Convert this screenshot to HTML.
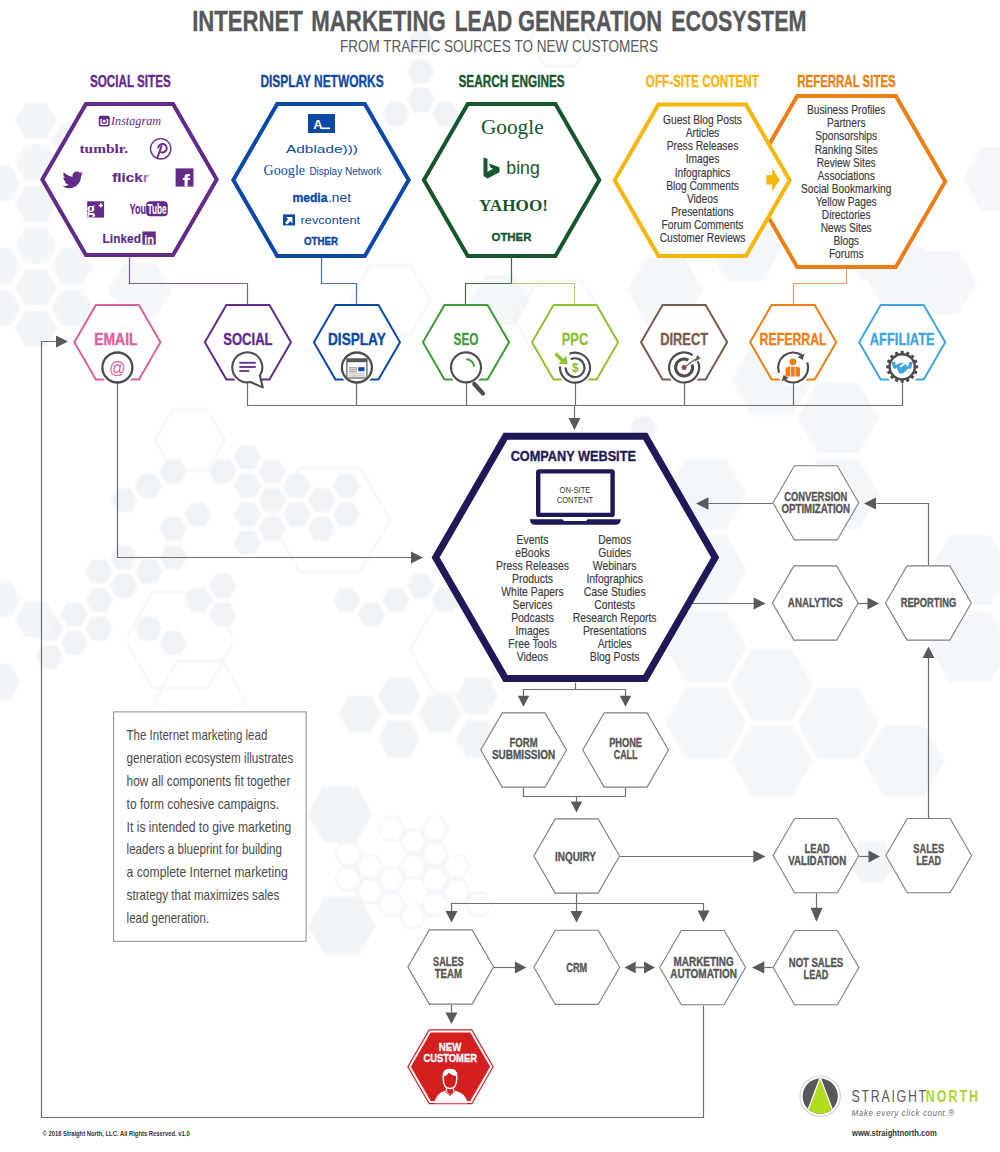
<!DOCTYPE html>
<html><head><meta charset="utf-8"><title>Internet Marketing Lead Generation Ecosystem</title>
<style>html,body{margin:0;padding:0;background:#fff;width:1000px;height:1152px;overflow:hidden}svg{display:block}</style>
</head><body>
<svg width="1000" height="1152" viewBox="0 0 1000 1152"><defs><filter id="bgb" x="-5%" y="-5%" width="110%" height="110%"><feGaussianBlur stdDeviation="1.2"/></filter></defs>
<g filter="url(#bgb)">
<g fill="#eff3f7">
<polygon points="63.30,628.73 56.40,640.69 42.60,640.69 35.70,628.73 42.60,616.78 56.40,616.78"/>
<polygon points="63.30,657.31 56.40,669.26 42.60,669.26 35.70,657.31 42.60,645.36 56.40,645.36"/>
<polygon points="88.05,614.45 81.15,626.40 67.35,626.40 60.45,614.45 67.35,602.49 81.15,602.49"/>
<polygon points="88.05,643.02 81.15,654.98 67.35,654.98 60.45,643.02 67.35,631.07 81.15,631.07"/>
<polygon points="112.80,571.58 105.90,583.53 92.10,583.53 85.20,571.58 92.10,559.63 105.90,559.63"/>
<polygon points="112.80,600.16 105.90,612.11 92.10,612.11 85.20,600.16 92.10,588.20 105.90,588.20"/>
<polygon points="112.80,628.73 105.90,640.69 92.10,640.69 85.20,628.73 92.10,616.78 105.90,616.78"/>
<polygon points="137.55,500.13 130.65,512.08 116.85,512.08 109.95,500.13 116.85,488.18 130.65,488.18"/>
<polygon points="137.55,557.29 130.65,569.24 116.85,569.24 109.95,557.29 116.85,545.34 130.65,545.34"/>
<polygon points="137.55,585.87 130.65,597.82 116.85,597.82 109.95,585.87 116.85,573.92 130.65,573.92"/>
<polygon points="162.30,485.84 155.40,497.79 141.60,497.79 134.70,485.84 141.60,473.89 155.40,473.89"/>
<polygon points="162.30,571.58 155.40,583.53 141.60,583.53 134.70,571.58 141.60,559.63 155.40,559.63"/>
<polygon points="162.30,628.73 155.40,640.69 141.60,640.69 134.70,628.73 141.60,616.78 155.40,616.78"/>
<polygon points="187.05,471.55 180.15,483.50 166.35,483.50 159.45,471.55 166.35,459.60 180.15,459.60"/>
<polygon points="187.05,528.71 180.15,540.66 166.35,540.66 159.45,528.71 166.35,516.76 180.15,516.76"/>
<polygon points="187.05,557.29 180.15,569.24 166.35,569.24 159.45,557.29 166.35,545.34 180.15,545.34"/>
<polygon points="187.05,643.02 180.15,654.98 166.35,654.98 159.45,643.02 166.35,631.07 180.15,631.07"/>
<polygon points="211.80,514.42 204.90,526.37 191.10,526.37 184.20,514.42 191.10,502.47 204.90,502.47"/>
<polygon points="211.80,600.16 204.90,612.11 191.10,612.11 184.20,600.16 191.10,588.20 204.90,588.20"/>
<polygon points="236.55,471.55 229.65,483.50 215.85,483.50 208.95,471.55 215.85,459.60 229.65,459.60"/>
<polygon points="236.55,585.87 229.65,597.82 215.85,597.82 208.95,585.87 215.85,573.92 229.65,573.92"/>
<polygon points="236.55,614.45 229.65,626.40 215.85,626.40 208.95,614.45 215.85,602.49 229.65,602.49"/>
<polygon points="261.30,457.26 254.40,469.21 240.60,469.21 233.70,457.26 240.60,445.31 254.40,445.31"/>
<polygon points="261.30,485.84 254.40,497.79 240.60,497.79 233.70,485.84 240.60,473.89 254.40,473.89"/>
<polygon points="261.30,514.42 254.40,526.37 240.60,526.37 233.70,514.42 240.60,502.47 254.40,502.47"/>
<polygon points="261.30,543.00 254.40,554.95 240.60,554.95 233.70,543.00 240.60,531.05 254.40,531.05"/>
<polygon points="286.05,471.55 279.15,483.50 265.35,483.50 258.45,471.55 265.35,459.60 279.15,459.60"/>
<polygon points="286.05,500.13 279.15,512.08 265.35,512.08 258.45,500.13 265.35,488.18 279.15,488.18"/>
<polygon points="286.05,528.71 279.15,540.66 265.35,540.66 258.45,528.71 265.35,516.76 279.15,516.76"/>
<polygon points="310.80,485.84 303.90,497.79 290.10,497.79 283.20,485.84 290.10,473.89 303.90,473.89"/>
<polygon points="310.80,514.42 303.90,526.37 290.10,526.37 283.20,514.42 290.10,502.47 303.90,502.47"/>
<polygon points="335.55,500.13 328.65,512.08 314.85,512.08 307.95,500.13 314.85,488.18 328.65,488.18"/>
<polygon points="335.55,528.71 328.65,540.66 314.85,540.66 307.95,528.71 314.85,516.76 328.65,516.76"/>
<polygon points="360.30,485.84 353.40,497.79 339.60,497.79 332.70,485.84 339.60,473.89 353.40,473.89"/>
<polygon points="360.30,514.42 353.40,526.37 339.60,526.37 332.70,514.42 339.60,502.47 353.40,502.47"/>
<polygon points="360.30,600.16 353.40,612.11 339.60,612.11 332.70,600.16 339.60,588.20 353.40,588.20"/>
<polygon points="385.05,614.45 378.15,626.40 364.35,626.40 357.45,614.45 364.35,602.49 378.15,602.49"/>
<polygon points="409.80,114.32 402.90,126.27 389.10,126.27 382.20,114.32 389.10,102.36 402.90,102.36"/>
<polygon points="409.80,600.16 402.90,612.11 389.10,612.11 382.20,600.16 389.10,588.20 402.90,588.20"/>
<polygon points="434.55,42.87 427.65,54.82 413.85,54.82 406.95,42.87 413.85,30.92 427.65,30.92"/>
<polygon points="434.55,71.45 427.65,83.40 413.85,83.40 406.95,71.45 413.85,59.50 427.65,59.50"/>
<polygon points="434.55,100.03 427.65,111.98 413.85,111.98 406.95,100.03 413.85,88.07 427.65,88.07"/>
<polygon points="434.55,585.87 427.65,597.82 413.85,597.82 406.95,585.87 413.85,573.92 427.65,573.92"/>
<polygon points="459.30,114.32 452.40,126.27 438.60,126.27 431.70,114.32 438.60,102.36 452.40,102.36"/>
<polygon points="459.30,600.16 452.40,612.11 438.60,612.11 431.70,600.16 438.60,588.20 452.40,588.20"/>
<polygon points="657.30,428.68 650.40,440.63 636.60,440.63 629.70,428.68 636.60,416.73 650.40,416.73"/>
</g>
<g fill="#f2f5f9">
<polygon points="21.00,183.14 10.50,201.32 -10.50,201.32 -21.00,183.14 -10.50,164.95 10.50,164.95"/>
<polygon points="21.00,266.28 10.50,284.46 -10.50,284.46 -21.00,266.28 -10.50,248.09 10.50,248.09"/>
<polygon points="21.00,307.85 10.50,326.03 -10.50,326.03 -21.00,307.85 -10.50,289.66 10.50,289.66"/>
<polygon points="21.00,598.83 10.50,617.02 -10.50,617.02 -21.00,598.83 -10.50,580.64 10.50,580.64"/>
<polygon points="21.00,681.97 10.50,700.16 -10.50,700.16 -21.00,681.97 -10.50,663.78 10.50,663.78"/>
<polygon points="57.00,120.78 46.50,138.97 25.50,138.97 15.00,120.78 25.50,102.60 46.50,102.60"/>
<polygon points="57.00,162.35 46.50,180.54 25.50,180.54 15.00,162.35 25.50,144.17 46.50,144.17"/>
<polygon points="57.00,203.92 46.50,222.11 25.50,222.11 15.00,203.92 25.50,185.74 46.50,185.74"/>
<polygon points="57.00,245.49 46.50,263.68 25.50,263.68 15.00,245.49 25.50,227.31 46.50,227.31"/>
<polygon points="57.00,287.06 46.50,305.25 25.50,305.25 15.00,287.06 25.50,268.87 46.50,268.87"/>
<polygon points="57.00,328.63 46.50,346.82 25.50,346.82 15.00,328.63 25.50,310.44 46.50,310.44"/>
<polygon points="57.00,619.62 46.50,637.80 25.50,637.80 15.00,619.62 25.50,601.43 46.50,601.43"/>
<polygon points="93.00,141.57 82.50,159.76 61.50,159.76 51.00,141.57 61.50,123.38 82.50,123.38"/>
<polygon points="93.00,183.14 82.50,201.32 61.50,201.32 51.00,183.14 61.50,164.95 82.50,164.95"/>
<polygon points="93.00,266.28 82.50,284.46 61.50,284.46 51.00,266.28 61.50,248.09 82.50,248.09"/>
<polygon points="93.00,307.85 82.50,326.03 61.50,326.03 51.00,307.85 61.50,289.66 82.50,289.66"/>
</g>
<polygon points="381.50,714.00 370.75,732.62 349.25,732.62 338.50,714.00 349.25,695.38 370.75,695.38" fill="#f2f5f8"/>
<polygon points="420.50,696.00 409.75,714.62 388.25,714.62 377.50,696.00 388.25,677.38 409.75,677.38" fill="#f2f5f8"/>
<polygon points="420.50,739.00 409.75,757.62 388.25,757.62 377.50,739.00 388.25,720.38 409.75,720.38" fill="#f2f5f8"/>
<polygon points="461.50,714.00 450.75,732.62 429.25,732.62 418.50,714.00 429.25,695.38 450.75,695.38" fill="#f2f5f8"/>
<polygon points="498.50,696.00 487.75,714.62 466.25,714.62 455.50,696.00 466.25,677.38 487.75,677.38" fill="#f2f5f8"/>
<polygon points="498.50,739.00 487.75,757.62 466.25,757.62 455.50,739.00 466.25,720.38 487.75,720.38" fill="#f2f5f8"/>
<polygon points="373.00,814.00 356.50,842.58 323.50,842.58 307.00,814.00 323.50,785.42 356.50,785.42" fill="#f2f5f8"/>
<polygon points="376.00,926.00 359.00,955.44 325.00,955.44 308.00,926.00 325.00,896.56 359.00,896.56" fill="#f2f5f8"/>
<g fill="none" stroke="#edf1f5" stroke-width="1.6">
<polygon points="361.00,853.90 354.50,865.16 341.50,865.16 335.00,853.90 341.50,842.64 354.50,842.64"/>
<polygon points="361.00,879.02 354.50,890.27 341.50,890.27 335.00,879.02 341.50,867.76 354.50,867.76"/>
<polygon points="382.75,866.46 376.25,877.72 363.25,877.72 356.75,866.46 363.25,855.20 376.25,855.20"/>
<polygon points="382.75,891.57 376.25,902.83 363.25,902.83 356.75,891.57 363.25,880.31 376.25,880.31"/>
<polygon points="404.50,828.79 398.00,840.04 385.00,840.04 378.50,828.79 385.00,817.53 398.00,817.53"/>
<polygon points="404.50,879.02 398.00,890.27 385.00,890.27 378.50,879.02 385.00,867.76 398.00,867.76"/>
<polygon points="404.50,904.13 398.00,915.39 385.00,915.39 378.50,904.13 385.00,892.87 398.00,892.87"/>
<polygon points="426.25,841.34 419.75,852.60 406.75,852.60 400.25,841.34 406.75,830.09 419.75,830.09"/>
<polygon points="426.25,866.46 419.75,877.72 406.75,877.72 400.25,866.46 406.75,855.20 419.75,855.20"/>
<polygon points="426.25,916.69 419.75,927.95 406.75,927.95 400.25,916.69 406.75,905.43 419.75,905.43"/>
<polygon points="448.00,828.79 441.50,840.04 428.50,840.04 422.00,828.79 428.50,817.53 441.50,817.53"/>
<polygon points="448.00,853.90 441.50,865.16 428.50,865.16 422.00,853.90 428.50,842.64 441.50,842.64"/>
<polygon points="448.00,879.02 441.50,890.27 428.50,890.27 422.00,879.02 428.50,867.76 441.50,867.76"/>
<polygon points="448.00,904.13 441.50,915.39 428.50,915.39 422.00,904.13 428.50,892.87 441.50,892.87"/>
<polygon points="469.75,866.46 463.25,877.72 450.25,877.72 443.75,866.46 450.25,855.20 463.25,855.20"/>
<polygon points="469.75,891.57 463.25,902.83 450.25,902.83 443.75,891.57 450.25,880.31 463.25,880.31"/>
<polygon points="491.50,904.13 485.00,915.39 472.00,915.39 465.50,904.13 472.00,892.87 485.00,892.87"/>
</g>
<g fill="#f4f7fa">
<polygon points="681.00,532.42 660.50,567.93 619.50,567.93 599.00,532.42 619.50,496.91 660.50,496.91"/>
<polygon points="747.00,494.32 726.50,529.82 685.50,529.82 665.00,494.32 685.50,458.81 726.50,458.81"/>
<polygon points="747.00,570.53 726.50,606.03 685.50,606.03 665.00,570.53 685.50,535.02 726.50,535.02"/>
<polygon points="747.00,646.74 726.50,682.24 685.50,682.24 665.00,646.74 685.50,611.23 726.50,611.23"/>
<polygon points="747.00,722.95 726.50,758.45 685.50,758.45 665.00,722.95 685.50,687.44 726.50,687.44"/>
<polygon points="813.00,380.00 792.50,415.51 751.50,415.51 731.00,380.00 751.50,344.49 792.50,344.49"/>
<polygon points="813.00,684.84 792.50,720.35 751.50,720.35 731.00,684.84 751.50,649.33 792.50,649.33"/>
<polygon points="813.00,761.05 792.50,796.56 751.50,796.56 731.00,761.05 751.50,725.54 792.50,725.54"/>
<polygon points="879.00,418.11 858.50,453.61 817.50,453.61 797.00,418.11 817.50,382.60 858.50,382.60"/>
<polygon points="879.00,494.32 858.50,529.82 817.50,529.82 797.00,494.32 817.50,458.81 858.50,458.81"/>
<polygon points="879.00,722.95 858.50,758.45 817.50,758.45 797.00,722.95 817.50,687.44 858.50,687.44"/>
<polygon points="945.00,761.05 924.50,796.56 883.50,796.56 863.00,761.05 883.50,725.54 924.50,725.54"/>
<polygon points="1011.00,570.53 990.50,606.03 949.50,606.03 929.00,570.53 949.50,535.02 990.50,535.02"/>
<polygon points="1011.00,646.74 990.50,682.24 949.50,682.24 929.00,646.74 949.50,611.23 990.50,611.23"/>
</g>
<g fill="#f5f7fa">
<polygon points="917.00,247.85 898.50,279.89 861.50,279.89 843.00,247.85 861.50,215.80 898.50,215.80"/>
<polygon points="977.00,282.49 958.50,314.53 921.50,314.53 903.00,282.49 921.50,250.44 958.50,250.44"/>
<polygon points="1037.00,178.56 1018.50,210.61 981.50,210.61 963.00,178.56 981.50,146.52 1018.50,146.52"/>
</g>
<polygon points="703.00,290.00 684.00,322.91 646.00,322.91 627.00,290.00 646.00,257.09 684.00,257.09" fill="#f4f7fa"/>
<polygon points="781.00,250.00 763.00,281.18 727.00,281.18 709.00,250.00 727.00,218.82 763.00,218.82" fill="#f4f7fa"/>
<polygon points="943.00,280.00 924.00,312.91 886.00,312.91 867.00,280.00 886.00,247.09 924.00,247.09" fill="#f4f7fa"/>
<polygon points="530.00,300.00 515.00,325.98 485.00,325.98 470.00,300.00 485.00,274.02 515.00,274.02" fill="#f4f7fa"/>
<polygon points="172.00,290.00 156.00,317.71 124.00,317.71 108.00,290.00 124.00,262.29 156.00,262.29" fill="#f4f7fa"/>
<polygon points="896.00,862.00 884.00,882.78 860.00,882.78 848.00,862.00 860.00,841.22 884.00,841.22" fill="#f3f6f9"/>
<g fill="none" stroke="#f0f3f6" stroke-width="2">
<polygon points="225.00,440.00 207.50,470.31 172.50,470.31 155.00,440.00 172.50,409.69 207.50,409.69"/>
<polygon points="430.00,300.00 410.00,334.64 370.00,334.64 350.00,300.00 370.00,265.36 410.00,265.36"/>
<polygon points="235.00,640.00 207.50,687.63 152.50,687.63 125.00,640.00 152.50,592.37 207.50,592.37"/>
<polygon points="605.00,320.00 582.50,358.97 537.50,358.97 515.00,320.00 537.50,281.03 582.50,281.03"/>
<polygon points="390.00,520.00 360.00,571.96 300.00,571.96 270.00,520.00 300.00,468.04 360.00,468.04"/>
<polygon points="510.00,650.00 485.00,693.30 435.00,693.30 410.00,650.00 435.00,606.70 485.00,606.70"/>
<polygon points="245.00,700.00 222.50,738.97 177.50,738.97 155.00,700.00 177.50,661.03 222.50,661.03"/>
<polygon points="590.00,40.00 575.00,65.98 545.00,65.98 530.00,40.00 545.00,14.02 575.00,14.02"/>
</g>
</g>
<text x="192.2" y="30.8" font-family="Liberation Sans" font-size="29.07" font-weight="bold" fill="#58585a" text-anchor="start" textLength="110.7" lengthAdjust="spacingAndGlyphs" stroke="#58585a" stroke-width="0.35" stroke-linejoin="round" >INTERNET</text>
<text x="311.3" y="30.8" font-family="Liberation Sans" font-size="29.07" font-weight="bold" fill="#58585a" text-anchor="start" textLength="134.5" lengthAdjust="spacingAndGlyphs" stroke="#58585a" stroke-width="0.35" stroke-linejoin="round" >MARKETING</text>
<text x="454.7" y="30.8" font-family="Liberation Sans" font-size="29.07" font-weight="bold" fill="#58585a" text-anchor="start" textLength="57.5" lengthAdjust="spacingAndGlyphs" stroke="#58585a" stroke-width="0.35" stroke-linejoin="round" >LEAD</text>
<text x="518.0" y="30.8" font-family="Liberation Sans" font-size="29.07" font-weight="bold" fill="#58585a" text-anchor="start" textLength="144.1" lengthAdjust="spacingAndGlyphs" stroke="#58585a" stroke-width="0.35" stroke-linejoin="round" >GENERATION</text>
<text x="671.2" y="30.8" font-family="Liberation Sans" font-size="29.07" font-weight="bold" fill="#58585a" text-anchor="start" textLength="135.4" lengthAdjust="spacingAndGlyphs" stroke="#58585a" stroke-width="0.35" stroke-linejoin="round" >ECOSYSTEM</text>
<text x="499.0" y="51.6" font-family="Liberation Sans" font-size="16.57" font-weight="normal" fill="#58585a" text-anchor="middle" textLength="318.0" lengthAdjust="spacingAndGlyphs" >FROM TRAFFIC SOURCES TO NEW CUSTOMERS</text>
<text x="89.9" y="86.9" font-family="Liberation Sans" font-size="15.84" font-weight="bold" fill="#632a8a" text-anchor="start" textLength="80.9" lengthAdjust="spacingAndGlyphs" stroke="#632a8a" stroke-width="0.35" stroke-linejoin="round" >SOCIAL SITES</text>
<text x="260.4" y="86.9" font-family="Liberation Sans" font-size="15.84" font-weight="bold" fill="#0b49a6" text-anchor="start" textLength="123.2" lengthAdjust="spacingAndGlyphs" stroke="#0b49a6" stroke-width="0.35" stroke-linejoin="round" >DISPLAY NETWORKS</text>
<text x="458.4" y="86.9" font-family="Liberation Sans" font-size="15.84" font-weight="bold" fill="#16562d" text-anchor="start" textLength="106.3" lengthAdjust="spacingAndGlyphs" stroke="#16562d" stroke-width="0.35" stroke-linejoin="round" >SEARCH ENGINES</text>
<text x="645.8" y="86.9" font-family="Liberation Sans" font-size="15.84" font-weight="bold" fill="#f8b50c" text-anchor="start" textLength="113.0" lengthAdjust="spacingAndGlyphs" stroke="#f8b50c" stroke-width="0.35" stroke-linejoin="round" >OFF-SITE CONTENT</text>
<text x="797.3" y="86.9" font-family="Liberation Sans" font-size="15.84" font-weight="bold" fill="#ec7e14" text-anchor="start" textLength="98.4" lengthAdjust="spacingAndGlyphs" stroke="#ec7e14" stroke-width="0.35" stroke-linejoin="round" >REFERRAL SITES</text>
<path d="M129.5,257.5 L129.5,283.5 L247.5,283.5 L247.5,305.5" fill="none" stroke="#7a5a94" stroke-width="1.2" />
<path d="M321.5,257.5 L321.5,283.5 L356.5,283.5 L356.5,305.5" fill="none" stroke="#4a6fae" stroke-width="1.2" />
<path d="M511.5,257.5 L511.5,283.5 L465.5,283.5 L465.5,305.5" fill="none" stroke="#3f6b45" stroke-width="1.2" />
<path d="M511.5,283.5 L574.5,283.5 L574.5,305.5" fill="none" stroke="#a9cf6a" stroke-width="1.2" />
<path d="M846.5,268.5 L846.5,283.5 L793.5,283.5 L793.5,305.5" fill="none" stroke="#e9a060" stroke-width="1.2" />
<polygon points="945.19,181.50 895.85,266.97 797.15,266.97 747.81,181.50 797.15,96.03 895.85,96.03" fill="#fff" stroke="#ec7e14" stroke-width="4" stroke-linejoin="miter" />
<polygon points="216.69,179.50 173.10,255.01 85.90,255.01 42.31,179.50 85.90,103.99 173.10,103.99" fill="#fff" stroke="#632a8a" stroke-width="4" stroke-linejoin="miter" />
<polygon points="408.69,180.00 364.85,255.94 277.15,255.94 233.31,180.00 277.15,104.06 364.85,104.06" fill="#fff" stroke="#0b49a6" stroke-width="4" stroke-linejoin="miter" />
<polygon points="599.29,180.00 555.45,255.94 467.75,255.94 423.91,180.00 467.75,104.06 555.45,104.06" fill="#fff" stroke="#16562d" stroke-width="4" stroke-linejoin="miter" />
<polygon points="789.69,180.20 745.95,255.97 658.45,255.97 614.71,180.20 658.45,104.43 745.95,104.43" fill="#fff" stroke="#f8b50c" stroke-width="4" stroke-linejoin="miter" />
<polygon points="766.5,175 772.3,175 772.3,168.3 779.6,179.8 772.3,191.4 772.3,184.6 766.5,184.6" fill="#f8b50c"/>
<text x="702.5" y="124.2" font-family="Liberation Sans" font-size="11.90" font-weight="normal" fill="#3a3a3a" text-anchor="middle" stroke="#3a3a3a" stroke-width="0.15" stroke-linejoin="round" transform="translate(702.5 0) scale(0.86 1) translate(-702.5 0)">Guest Blog Posts</text>
<text x="702.5" y="137.3" font-family="Liberation Sans" font-size="11.90" font-weight="normal" fill="#3a3a3a" text-anchor="middle" stroke="#3a3a3a" stroke-width="0.15" stroke-linejoin="round" transform="translate(702.5 0) scale(0.86 1) translate(-702.5 0)">Articles</text>
<text x="702.5" y="150.4" font-family="Liberation Sans" font-size="11.90" font-weight="normal" fill="#3a3a3a" text-anchor="middle" stroke="#3a3a3a" stroke-width="0.15" stroke-linejoin="round" transform="translate(702.5 0) scale(0.86 1) translate(-702.5 0)">Press Releases</text>
<text x="702.5" y="163.5" font-family="Liberation Sans" font-size="11.90" font-weight="normal" fill="#3a3a3a" text-anchor="middle" stroke="#3a3a3a" stroke-width="0.15" stroke-linejoin="round" transform="translate(702.5 0) scale(0.86 1) translate(-702.5 0)">Images</text>
<text x="702.5" y="176.6" font-family="Liberation Sans" font-size="11.90" font-weight="normal" fill="#3a3a3a" text-anchor="middle" stroke="#3a3a3a" stroke-width="0.15" stroke-linejoin="round" transform="translate(702.5 0) scale(0.86 1) translate(-702.5 0)">Infographics</text>
<text x="702.5" y="189.7" font-family="Liberation Sans" font-size="11.90" font-weight="normal" fill="#3a3a3a" text-anchor="middle" stroke="#3a3a3a" stroke-width="0.15" stroke-linejoin="round" transform="translate(702.5 0) scale(0.86 1) translate(-702.5 0)">Blog Comments</text>
<text x="702.5" y="202.8" font-family="Liberation Sans" font-size="11.90" font-weight="normal" fill="#3a3a3a" text-anchor="middle" stroke="#3a3a3a" stroke-width="0.15" stroke-linejoin="round" transform="translate(702.5 0) scale(0.86 1) translate(-702.5 0)">Videos</text>
<text x="702.5" y="215.9" font-family="Liberation Sans" font-size="11.90" font-weight="normal" fill="#3a3a3a" text-anchor="middle" stroke="#3a3a3a" stroke-width="0.15" stroke-linejoin="round" transform="translate(702.5 0) scale(0.86 1) translate(-702.5 0)">Presentations</text>
<text x="702.5" y="229.0" font-family="Liberation Sans" font-size="11.90" font-weight="normal" fill="#3a3a3a" text-anchor="middle" stroke="#3a3a3a" stroke-width="0.15" stroke-linejoin="round" transform="translate(702.5 0) scale(0.86 1) translate(-702.5 0)">Forum Comments</text>
<text x="702.5" y="242.1" font-family="Liberation Sans" font-size="11.90" font-weight="normal" fill="#3a3a3a" text-anchor="middle" stroke="#3a3a3a" stroke-width="0.15" stroke-linejoin="round" transform="translate(702.5 0) scale(0.86 1) translate(-702.5 0)">Customer Reviews</text>
<text x="846.2" y="114.4" font-family="Liberation Sans" font-size="11.90" font-weight="normal" fill="#3a3a3a" text-anchor="middle" stroke="#3a3a3a" stroke-width="0.15" stroke-linejoin="round" transform="translate(846.2 0) scale(0.86 1) translate(-846.2 0)">Business Profiles</text>
<text x="846.2" y="127.5" font-family="Liberation Sans" font-size="11.90" font-weight="normal" fill="#3a3a3a" text-anchor="middle" stroke="#3a3a3a" stroke-width="0.15" stroke-linejoin="round" transform="translate(846.2 0) scale(0.86 1) translate(-846.2 0)">Partners</text>
<text x="846.2" y="140.5" font-family="Liberation Sans" font-size="11.90" font-weight="normal" fill="#3a3a3a" text-anchor="middle" stroke="#3a3a3a" stroke-width="0.15" stroke-linejoin="round" transform="translate(846.2 0) scale(0.86 1) translate(-846.2 0)">Sponsorships</text>
<text x="846.2" y="153.6" font-family="Liberation Sans" font-size="11.90" font-weight="normal" fill="#3a3a3a" text-anchor="middle" stroke="#3a3a3a" stroke-width="0.15" stroke-linejoin="round" transform="translate(846.2 0) scale(0.86 1) translate(-846.2 0)">Ranking Sites</text>
<text x="846.2" y="166.6" font-family="Liberation Sans" font-size="11.90" font-weight="normal" fill="#3a3a3a" text-anchor="middle" stroke="#3a3a3a" stroke-width="0.15" stroke-linejoin="round" transform="translate(846.2 0) scale(0.86 1) translate(-846.2 0)">Review Sites</text>
<text x="846.2" y="179.7" font-family="Liberation Sans" font-size="11.90" font-weight="normal" fill="#3a3a3a" text-anchor="middle" stroke="#3a3a3a" stroke-width="0.15" stroke-linejoin="round" transform="translate(846.2 0) scale(0.86 1) translate(-846.2 0)">Associations</text>
<text x="846.2" y="192.8" font-family="Liberation Sans" font-size="11.90" font-weight="normal" fill="#3a3a3a" text-anchor="middle" stroke="#3a3a3a" stroke-width="0.15" stroke-linejoin="round" transform="translate(846.2 0) scale(0.86 1) translate(-846.2 0)">Social Bookmarking</text>
<text x="846.2" y="205.8" font-family="Liberation Sans" font-size="11.90" font-weight="normal" fill="#3a3a3a" text-anchor="middle" stroke="#3a3a3a" stroke-width="0.15" stroke-linejoin="round" transform="translate(846.2 0) scale(0.86 1) translate(-846.2 0)">Yellow Pages</text>
<text x="846.2" y="218.9" font-family="Liberation Sans" font-size="11.90" font-weight="normal" fill="#3a3a3a" text-anchor="middle" stroke="#3a3a3a" stroke-width="0.15" stroke-linejoin="round" transform="translate(846.2 0) scale(0.86 1) translate(-846.2 0)">Directories</text>
<text x="846.2" y="231.9" font-family="Liberation Sans" font-size="11.90" font-weight="normal" fill="#3a3a3a" text-anchor="middle" stroke="#3a3a3a" stroke-width="0.15" stroke-linejoin="round" transform="translate(846.2 0) scale(0.86 1) translate(-846.2 0)">News Sites</text>
<text x="846.2" y="245.0" font-family="Liberation Sans" font-size="11.90" font-weight="normal" fill="#3a3a3a" text-anchor="middle" stroke="#3a3a3a" stroke-width="0.15" stroke-linejoin="round" transform="translate(846.2 0) scale(0.86 1) translate(-846.2 0)">Blogs</text>
<text x="846.2" y="258.1" font-family="Liberation Sans" font-size="11.90" font-weight="normal" fill="#3a3a3a" text-anchor="middle" stroke="#3a3a3a" stroke-width="0.15" stroke-linejoin="round" transform="translate(846.2 0) scale(0.86 1) translate(-846.2 0)">Forums</text>
<rect x="99.5" y="116.5" width="9.5" height="9.3" rx="1.5" fill="none" stroke="#632a8a" stroke-width="1.6"/>
<rect x="99.5" y="116.5" width="9.5" height="2.6" fill="#632a8a"/>
<circle cx="104.2" cy="121.2" r="2.1" fill="#fff" stroke="#632a8a" stroke-width="1.3"/>
<text x="111.0" y="125.2" font-family="Liberation Serif" font-size="12.50" font-weight="normal" fill="#632a8a" text-anchor="start" textLength="50.0" lengthAdjust="spacingAndGlyphs" font-style="italic" >Instagram</text>
<text x="79.5" y="152.6" font-family="Liberation Serif" font-size="13.50" font-weight="bold" fill="#632a8a" text-anchor="start" textLength="48.5" lengthAdjust="spacingAndGlyphs" >tumblr.</text>
<circle cx="160.7" cy="148.8" r="10.2" fill="none" stroke="#632a8a" stroke-width="1.3"/>
<path d="M158.2,147.6 A4.3,4.3 0 1 1 160.8,152.2" fill="none" stroke="#632a8a" stroke-width="1.9" stroke-linecap="round"/>
<path d="M161.6,145.8 L157.6,157.2" fill="none" stroke="#632a8a" stroke-width="1.9" stroke-linecap="round"/>
<g transform="translate(62.5,169.5) scale(0.86)" fill="#632a8a"><path d="M23.954 4.569c-.885.389-1.83.654-2.825.775 1.014-.611 1.794-1.574 2.163-2.723-.951.555-2.005.959-3.127 1.184-.896-.959-2.173-1.559-3.591-1.559-2.717 0-4.92 2.203-4.92 4.917 0 .39.045.765.127 1.124C7.691 8.094 4.066 6.13 1.64 3.161c-.427.722-.666 1.561-.666 2.475 0 1.71.87 3.213 2.188 4.096-.807-.026-1.566-.248-2.228-.616v.061c0 2.385 1.693 4.374 3.946 4.827-.413.111-.849.171-1.296.171-.314 0-.615-.03-.916-.086.631 1.953 2.445 3.377 4.604 3.417-1.68 1.319-3.809 2.105-6.102 2.105-.39 0-.779-.023-1.17-.067 2.189 1.394 4.768 2.209 7.557 2.209 9.054 0 13.999-7.496 13.999-13.986 0-.209 0-.42-.015-.63.961-.689 1.8-1.56 2.46-2.548l-.047-.02z"/></g>
<text x="112.3" y="182.4" font-family="Liberation Sans" font-size="12.80" font-weight="bold" fill="#632a8a" text-anchor="start" textLength="30.3" lengthAdjust="spacingAndGlyphs" stroke="#632a8a" stroke-width="0.20" stroke-linejoin="round" >flick</text>
<text x="142.9" y="182.4" font-family="Liberation Sans" font-size="12.80" font-weight="bold" fill="#9a7ab5" text-anchor="start" textLength="5.4" lengthAdjust="spacingAndGlyphs" stroke="#9a7ab5" stroke-width="0.20" stroke-linejoin="round" >r</text>
<rect x="148.6" y="174.5" width="1.6" height="0.8" fill="#bbb"/>
<rect x="175.6" y="168.4" width="17.9" height="18.2" fill="#632a8a"/>
<defs><clipPath id="fbc"><rect x="175.6" y="168.4" width="17.9" height="18.2"/></clipPath></defs>
<g clip-path="url(#fbc)"><text x="186.2" y="189.5" font-family="Liberation Sans" font-size="22" font-weight="bold" fill="#fff" text-anchor="middle">f</text></g>
<rect x="87.2" y="201.3" width="16.9" height="16.3" fill="#632a8a"/>
<defs><clipPath id="gpc"><rect x="87.2" y="201.3" width="16.9" height="16.3"/></clipPath></defs>
<g clip-path="url(#gpc)"><text x="86.6" y="213.6" font-family="Liberation Serif" font-size="17" font-weight="bold" fill="#fff">g</text></g>
<path d="M98.6,205.4 h4.4 M100.8,203.2 v4.4" stroke="#fff" stroke-width="1.5"/>
<text x="129.6" y="213.8" font-family="Liberation Sans" font-size="15.00" font-weight="bold" fill="#632a8a" text-anchor="start" textLength="16.6" lengthAdjust="spacingAndGlyphs" stroke="#632a8a" stroke-width="0.20" stroke-linejoin="round" >You</text>
<rect x="146.2" y="201.3" width="21.6" height="15" rx="4" fill="#632a8a"/>
<text x="157.0" y="214.0" font-family="Liberation Sans" font-size="14.50" font-weight="bold" fill="#fff" text-anchor="middle" textLength="19.0" lengthAdjust="spacingAndGlyphs" stroke="#fff" stroke-width="0.10" stroke-linejoin="round" >Tube</text>
<text x="102.6" y="242.9" font-family="Liberation Sans" font-size="13.60" font-weight="bold" fill="#632a8a" text-anchor="start" textLength="38.4" lengthAdjust="spacingAndGlyphs" stroke="#632a8a" stroke-width="0.20" stroke-linejoin="round" >Linked</text>
<rect x="142.4" y="231.5" width="13.4" height="13" fill="#632a8a"/>
<text x="149.2" y="244.0" font-family="Liberation Sans" font-size="13.50" font-weight="bold" fill="#fff" text-anchor="middle" textLength="10.0" lengthAdjust="spacingAndGlyphs" stroke="#fff" stroke-width="0.10" stroke-linejoin="round" >in</text>
<rect x="308" y="114" width="27" height="19" fill="#0b49a6"/>
<text x="318.0" y="129.0" font-family="Liberation Sans" font-size="13.00" font-weight="bold" fill="#fff" text-anchor="middle" >A</text>
<rect x="322" y="127.5" width="8" height="1.6" fill="#fff"/>
<text x="286.0" y="152.6" font-family="Liberation Sans" font-size="10.50" font-weight="normal" fill="#0b49a6" text-anchor="start" textLength="72.0" lengthAdjust="spacingAndGlyphs" >Adblade)))</text>
<text x="263.6" y="175.2" font-family="Liberation Serif" font-size="15.20" font-weight="normal" fill="#0b49a6" text-anchor="start" textLength="41.5" lengthAdjust="spacingAndGlyphs" >Google</text>
<text x="309.4" y="174.5" font-family="Liberation Sans" font-size="10.50" font-weight="normal" fill="#0b49a6" text-anchor="start" textLength="72.2" lengthAdjust="spacingAndGlyphs" >Display Network</text>
<text x="292.4" y="201.5" font-family="Liberation Sans" font-size="13.00" font-weight="bold" fill="#0b49a6" text-anchor="start" textLength="35.0" lengthAdjust="spacingAndGlyphs" stroke="#0b49a6" stroke-width="0.35" stroke-linejoin="round" >media</text>
<text x="328.0" y="201.5" font-family="Liberation Sans" font-size="13.00" font-weight="normal" fill="#0b49a6" text-anchor="start" textLength="23.0" lengthAdjust="spacingAndGlyphs" >.net</text>
<rect x="283" y="214.4" width="12" height="11" fill="#0b49a6"/>
<polygon points="286,217 292.5,217 292.5,223.5 290.3,221.3 287,224.5 285,222.5 288.2,219.2" fill="#fff"/>
<text x="300.6" y="223.5" font-family="Liberation Sans" font-size="11.50" font-weight="normal" fill="#0b49a6" text-anchor="start" textLength="59.4" lengthAdjust="spacingAndGlyphs" >revcontent</text>
<text x="321.0" y="244.6" font-family="Liberation Sans" font-size="10.17" font-weight="bold" fill="#0b49a6" text-anchor="middle" textLength="34.0" lengthAdjust="spacingAndGlyphs" stroke="#0b49a6" stroke-width="0.35" stroke-linejoin="round" >OTHER</text>
<text x="512.3" y="134.3" font-family="Liberation Serif" font-size="20.50" font-weight="normal" fill="#16562d" text-anchor="middle" textLength="62.6" lengthAdjust="spacingAndGlyphs" >Google</text>
<path d="M483.5,157.5 L487.5,158.8 L487.5,172 L493,168.7 L490.5,167.5 L489,163.5 L499.5,167.3 L499.5,172.3 L487.5,178.5 L483.5,176 Z" fill="#16562d"/>
<text x="506.3" y="173.8" font-family="Liberation Sans" font-size="18.50" font-weight="normal" fill="#16562d" text-anchor="start" textLength="33.5" lengthAdjust="spacingAndGlyphs" >bing</text>
<text x="513.5" y="211.3" font-family="Liberation Serif" font-size="17.00" font-weight="bold" fill="#16562d" text-anchor="middle" textLength="69.0" lengthAdjust="spacingAndGlyphs" >YAHOO!</text>
<text x="511.5" y="241.3" font-family="Liberation Sans" font-size="11.63" font-weight="bold" fill="#16562d" text-anchor="middle" textLength="40.0" lengthAdjust="spacingAndGlyphs" stroke="#16562d" stroke-width="0.35" stroke-linejoin="round" >OTHER</text>
<polygon points="160.45,342.20 138.92,379.48 95.88,379.48 74.35,342.20 95.88,304.92 138.92,304.92" fill="#fff" stroke="#d9609c" stroke-width="2.0" stroke-linejoin="miter" />
<text x="115.9" y="345.4" font-family="Liberation Sans" font-size="15.84" font-weight="bold" fill="#d9609c" text-anchor="middle" textLength="43.2" lengthAdjust="spacingAndGlyphs" stroke="#d9609c" stroke-width="0.35" stroke-linejoin="round" >EMAIL</text>
<polygon points="290.95,342.20 269.42,379.48 226.38,379.48 204.85,342.20 226.38,304.92 269.42,304.92" fill="#fff" stroke="#632a8a" stroke-width="2.0" stroke-linejoin="miter" />
<text x="247.9" y="345.4" font-family="Liberation Sans" font-size="15.84" font-weight="bold" fill="#632a8a" text-anchor="middle" textLength="49.2" lengthAdjust="spacingAndGlyphs" stroke="#632a8a" stroke-width="0.35" stroke-linejoin="round" >SOCIAL</text>
<polygon points="400.00,342.20 378.47,379.48 335.43,379.48 313.90,342.20 335.43,304.92 378.47,304.92" fill="#fff" stroke="#0b49a6" stroke-width="2.0" stroke-linejoin="miter" />
<text x="356.9" y="345.4" font-family="Liberation Sans" font-size="15.84" font-weight="bold" fill="#0b49a6" text-anchor="middle" textLength="57.7" lengthAdjust="spacingAndGlyphs" stroke="#0b49a6" stroke-width="0.35" stroke-linejoin="round" >DISPLAY</text>
<polygon points="509.05,342.20 487.52,379.48 444.48,379.48 422.95,342.20 444.48,304.92 487.52,304.92" fill="#fff" stroke="#3f9a3a" stroke-width="2.0" stroke-linejoin="miter" />
<text x="466.0" y="345.4" font-family="Liberation Sans" font-size="15.84" font-weight="bold" fill="#3f9a3a" text-anchor="middle" textLength="24.9" lengthAdjust="spacingAndGlyphs" stroke="#3f9a3a" stroke-width="0.35" stroke-linejoin="round" >SEO</text>
<polygon points="618.10,342.20 596.57,379.48 553.53,379.48 532.00,342.20 553.53,304.92 596.57,304.92" fill="#fff" stroke="#90c132" stroke-width="2.0" stroke-linejoin="miter" />
<text x="575.0" y="345.4" font-family="Liberation Sans" font-size="15.84" font-weight="bold" fill="#90c132" text-anchor="middle" textLength="26.4" lengthAdjust="spacingAndGlyphs" stroke="#90c132" stroke-width="0.35" stroke-linejoin="round" >PPC</text>
<polygon points="727.15,342.20 705.62,379.48 662.58,379.48 641.05,342.20 662.58,304.92 705.62,304.92" fill="#fff" stroke="#7b5a4c" stroke-width="2.0" stroke-linejoin="miter" />
<text x="684.1" y="345.4" font-family="Liberation Sans" font-size="15.84" font-weight="bold" fill="#7b5a4c" text-anchor="middle" textLength="47.9" lengthAdjust="spacingAndGlyphs" stroke="#7b5a4c" stroke-width="0.35" stroke-linejoin="round" >DIRECT</text>
<polygon points="836.20,342.20 814.67,379.48 771.63,379.48 750.10,342.20 771.63,304.92 814.67,304.92" fill="#fff" stroke="#ec7e14" stroke-width="2.0" stroke-linejoin="miter" />
<text x="793.1" y="345.4" font-family="Liberation Sans" font-size="15.84" font-weight="bold" fill="#ec7e14" text-anchor="middle" textLength="67.0" lengthAdjust="spacingAndGlyphs" stroke="#ec7e14" stroke-width="0.35" stroke-linejoin="round" >REFERRAL</text>
<polygon points="945.25,342.20 923.72,379.48 880.68,379.48 859.15,342.20 880.68,304.92 923.72,304.92" fill="#fff" stroke="#3ea5de" stroke-width="2.0" stroke-linejoin="miter" />
<text x="902.2" y="345.4" font-family="Liberation Sans" font-size="15.84" font-weight="bold" fill="#3ea5de" text-anchor="middle" textLength="64.9" lengthAdjust="spacingAndGlyphs" stroke="#3ea5de" stroke-width="0.35" stroke-linejoin="round" >AFFILIATE</text>
<circle cx="117.4" cy="367.5" r="15.0" fill="#fff" stroke="#fff" stroke-width="6"/>
<circle cx="247.9" cy="367.5" r="15.0" fill="#fff" stroke="#fff" stroke-width="6"/>
<circle cx="356.9" cy="367.5" r="15.0" fill="#fff" stroke="#fff" stroke-width="6"/>
<circle cx="466.0" cy="367.5" r="15.0" fill="#fff" stroke="#fff" stroke-width="6"/>
<circle cx="575.0" cy="367.5" r="15.0" fill="#fff" stroke="#fff" stroke-width="6"/>
<circle cx="684.1" cy="367.5" r="15.0" fill="#fff" stroke="#fff" stroke-width="6"/>
<circle cx="793.1" cy="367.5" r="15.0" fill="#fff" stroke="#fff" stroke-width="6"/>
<circle cx="902.2" cy="367.5" r="15.0" fill="#fff" stroke="#fff" stroke-width="6"/>
<path d="M247.5,382.5 L247.5,405.5 L902.5,405.5 L902.5,382.5" fill="none" stroke="#6d6e70" stroke-width="1.2" />
<path d="M356.5,382.5 L356.5,405.5" fill="none" stroke="#6d6e70" stroke-width="1.2" />
<path d="M466.5,382.5 L466.5,405.5" fill="none" stroke="#6d6e70" stroke-width="1.2" />
<path d="M575.5,382.5 L575.5,405.5" fill="none" stroke="#6d6e70" stroke-width="1.2" />
<path d="M684.5,382.5 L684.5,405.5" fill="none" stroke="#6d6e70" stroke-width="1.2" />
<path d="M793.5,382.5 L793.5,405.5" fill="none" stroke="#6d6e70" stroke-width="1.2" />
<path d="M574.5,405.5 L574.5,420.5" fill="none" stroke="#6d6e70" stroke-width="1.2" />
<polygon points="574.5,430.0 568.5,418.0 580.5,418.0" fill="#58595b"/>
<path d="M117.5,382.5 L117.5,557.5 L412.5,557.5" fill="none" stroke="#6d6e70" stroke-width="1.2" />
<polygon points="423.0,557.5 411.0,551.5 411.0,563.5" fill="#58595b"/>
<path d="M703.5,1005.5 L703.5,1117.5 L41.5,1117.5 L41.5,341.5 L56.5,341.5" fill="none" stroke="#6d6e70" stroke-width="1.2" />
<polygon points="68.0,341.5 56.0,335.5 56.0,347.5" fill="#58595b"/>
<circle cx="117.4" cy="367.5" r="15" fill="none" stroke="#4d4d4f" stroke-width="2.3"/>
<text x="117.2" y="374.4" font-family="Liberation Sans" font-size="19.00" font-weight="normal" fill="#d9609c" text-anchor="middle" textLength="16.6" lengthAdjust="spacingAndGlyphs" >@</text>
<path d="M250.42,381.97 A15,15 0 1 1 259.88,375.47 L262.8,387.4 Z" fill="#fff" stroke="#4d4d4f" stroke-width="2.1" stroke-linejoin="round"/>
<rect x="239.3" y="361.9" width="16.5" height="1.8" fill="#632a8a"/>
<rect x="239.3" y="366.1" width="16.5" height="1.8" fill="#632a8a"/>
<rect x="239.3" y="370.1" width="10.0" height="1.8" fill="#632a8a"/>
<circle cx="356.9" cy="367.5" r="15" fill="none" stroke="#4d4d4f" stroke-width="2.3"/>
<rect x="346.9" y="359" width="20" height="19" fill="#fff" stroke="#58595b" stroke-width="1.2"/>
<rect x="346.8" y="358.6" width="20.4" height="3.6" fill="#58595b"/>
<rect x="358.3" y="367.2" width="6.2" height="4" fill="#0b49a6"/>
<rect x="348.9" y="367.4" width="8" height="0.9" fill="#777"/>
<rect x="348.9" y="369.4" width="8" height="0.9" fill="#777"/>
<rect x="348.9" y="371.4" width="8" height="0.9" fill="#777"/>
<rect x="348.9" y="373.5" width="16" height="0.9" fill="#aaa"/>
<rect x="348.9" y="375.5" width="16" height="0.9" fill="#aaa"/>
<circle cx="466.0" cy="367.3" r="15" fill="none" stroke="#4d4d4f" stroke-width="2.2"/>
<path d="M466.3,359.3 A8,8 0 0 1 474.3,366.8" fill="none" stroke="#3f9a3a" stroke-width="2"/>
<line x1="474.3" y1="384" x2="483.0" y2="393.5" stroke="#4d4d4f" stroke-width="4.2" stroke-linecap="round"/>
<path d="M569.43,353.79 A15.00,15.00 0 1 1 560.11,366.39" fill="none" stroke="#4d4d4f" stroke-width="2.2"/>
<path d="M570.78,359.32 A9.40,9.40 0 1 1 565.66,367.37" fill="none" stroke="#4d4d4f" stroke-width="2.2"/>
<text x="575.3" y="372.4" font-family="Liberation Sans" font-size="13.00" font-weight="bold" fill="#90c132" text-anchor="middle" textLength="6.5" lengthAdjust="spacingAndGlyphs" stroke="#90c132" stroke-width="0.20" stroke-linejoin="round" >$</text>
<line x1="555.5" y1="353.5" x2="562.2" y2="360.2" stroke="#90c132" stroke-width="3.6"/>
<polygon points="567.8,364.2 566.2,355.8 558.5,363.8" fill="#90c132"/>
<path d="M697.69,361.16 A15.00,15.00 0 1 1 692.70,355.21" fill="none" stroke="#4d4d4f" stroke-width="2.2"/>
<path d="M692.09,364.59 A8.50,8.50 0 1 1 688.35,360.14" fill="none" stroke="#4d4d4f" stroke-width="3"/>
<circle cx="684.1" cy="367.5" r="2.5" fill="#7b5a4c"/>
<line x1="684.1" y1="367.5" x2="695.6" y2="359" stroke="#7b5a4c" stroke-width="1.2"/>
<polygon points="697.3,355 700.6,358.6 696.1,360.8 694.3,362" fill="#7b5a4c"/>
<path d="M779.05,372.63 A15.00,15.00 0 0 1 801.75,355.21" fill="none" stroke="#4d4d4f" stroke-width="2.2"/>
<path d="M807.25,362.37 A15.00,15.00 0 0 1 784.55,379.79" fill="none" stroke="#4d4d4f" stroke-width="2.2"/>
<polygon points="804.6,353.5 797.6,357 802.6,360" fill="#4d4d4f"/>
<polygon points="781.6,381.5 788.6,378 783.6,375" fill="#4d4d4f"/>
<circle cx="792.9" cy="361.8" r="3.4" fill="#ec7e14"/>
<path d="M785.6,376.5 L785.6,369.5 Q785.6,366.8 788.6,366.8 L797.0,366.8 Q800.0,366.8 800.0,369.5 L800.0,376.5 Z" fill="#ec7e14"/>
<line x1="790.6" y1="367" x2="790.6" y2="376.5" stroke="#fff" stroke-width="0.8"/>
<line x1="795.1" y1="367" x2="795.1" y2="376.5" stroke="#fff" stroke-width="0.8"/>
<rect x="-1.6" y="-16" width="3.2" height="4" rx="0.8" transform="translate(902.2 366.8) rotate(0.0)" fill="#4d4d4f"/><rect x="-1.6" y="-16" width="3.2" height="4" rx="0.8" transform="translate(902.2 366.8) rotate(22.5)" fill="#4d4d4f"/><rect x="-1.6" y="-16" width="3.2" height="4" rx="0.8" transform="translate(902.2 366.8) rotate(45.0)" fill="#4d4d4f"/><rect x="-1.6" y="-16" width="3.2" height="4" rx="0.8" transform="translate(902.2 366.8) rotate(67.5)" fill="#4d4d4f"/><rect x="-1.6" y="-16" width="3.2" height="4" rx="0.8" transform="translate(902.2 366.8) rotate(90.0)" fill="#4d4d4f"/><rect x="-1.6" y="-16" width="3.2" height="4" rx="0.8" transform="translate(902.2 366.8) rotate(112.5)" fill="#4d4d4f"/><rect x="-1.6" y="-16" width="3.2" height="4" rx="0.8" transform="translate(902.2 366.8) rotate(135.0)" fill="#4d4d4f"/><rect x="-1.6" y="-16" width="3.2" height="4" rx="0.8" transform="translate(902.2 366.8) rotate(157.5)" fill="#4d4d4f"/><rect x="-1.6" y="-16" width="3.2" height="4" rx="0.8" transform="translate(902.2 366.8) rotate(180.0)" fill="#4d4d4f"/><rect x="-1.6" y="-16" width="3.2" height="4" rx="0.8" transform="translate(902.2 366.8) rotate(202.5)" fill="#4d4d4f"/><rect x="-1.6" y="-16" width="3.2" height="4" rx="0.8" transform="translate(902.2 366.8) rotate(225.0)" fill="#4d4d4f"/><rect x="-1.6" y="-16" width="3.2" height="4" rx="0.8" transform="translate(902.2 366.8) rotate(247.5)" fill="#4d4d4f"/><rect x="-1.6" y="-16" width="3.2" height="4" rx="0.8" transform="translate(902.2 366.8) rotate(270.0)" fill="#4d4d4f"/><rect x="-1.6" y="-16" width="3.2" height="4" rx="0.8" transform="translate(902.2 366.8) rotate(292.5)" fill="#4d4d4f"/><rect x="-1.6" y="-16" width="3.2" height="4" rx="0.8" transform="translate(902.2 366.8) rotate(315.0)" fill="#4d4d4f"/><rect x="-1.6" y="-16" width="3.2" height="4" rx="0.8" transform="translate(902.2 366.8) rotate(337.5)" fill="#4d4d4f"/>
<circle cx="902.2" cy="366.8" r="12.6" fill="#fff" stroke="#4d4d4f" stroke-width="2.4"/>
<g fill="#3ea5de"><path d="M891.6,362.6 l3.2,-1.2 l1.8,6.5 l-3,1.2 z"/><path d="M912.8,362.6 l-3.2,-1.2 l-1.8,6.5 l3,1.2 z"/><path d="M895.4,365.3 l5,-2.6 l3.2,0.4 l-4.2,3.3 l1.2,1.2 l4.8,-3.3 l3.6,3.6 l-5.5,5 q-2.5,1.6 -4.5,0 z"/></g>
<path d="M690.5,603.5 L754.5,603.5" fill="none" stroke="#6d6e70" stroke-width="1.2" />
<polygon points="715.16,557.40 645.28,678.43 505.52,678.43 435.64,557.40 505.52,436.37 645.28,436.37" fill="#fff" stroke="#1e1a57" stroke-width="7" stroke-linejoin="miter" />
<text x="573.3" y="461.0" font-family="Liberation Sans" font-size="15.41" font-weight="bold" fill="#1e1a57" text-anchor="middle" textLength="125.2" lengthAdjust="spacingAndGlyphs" stroke="#1e1a57" stroke-width="0.35" stroke-linejoin="round" >COMPANY WEBSITE</text>
<rect x="538.2" y="471.4" width="74.4" height="43.5" rx="1" fill="#fff" stroke="#1e1a57" stroke-width="4.4"/>
<path d="M529.7,519.2 L562.4,519.2 L564,521 L586,521 L587.7,519.2 L621,519.2 L620,522.5 Q619,524.7 616,524.7 L534.7,524.7 Q531.7,524.7 530.7,522.5 Z" fill="#1e1a57"/>
<text x="575.0" y="492.6" font-family="Liberation Sans" font-size="9.30" font-weight="normal" fill="#333" text-anchor="middle" textLength="30.8" lengthAdjust="spacingAndGlyphs" >ON-SITE</text>
<text x="575.0" y="502.5" font-family="Liberation Sans" font-size="9.30" font-weight="normal" fill="#333" text-anchor="middle" textLength="36.3" lengthAdjust="spacingAndGlyphs" >CONTENT</text>
<text x="532.5" y="543.7" font-family="Liberation Sans" font-size="12.10" font-weight="normal" fill="#3a3a3a" text-anchor="middle" stroke="#3a3a3a" stroke-width="0.15" stroke-linejoin="round" transform="translate(532.5 0) scale(0.86 1) translate(-532.5 0)">Events</text>
<text x="532.5" y="556.8" font-family="Liberation Sans" font-size="12.10" font-weight="normal" fill="#3a3a3a" text-anchor="middle" stroke="#3a3a3a" stroke-width="0.15" stroke-linejoin="round" transform="translate(532.5 0) scale(0.86 1) translate(-532.5 0)">eBooks</text>
<text x="532.5" y="569.9" font-family="Liberation Sans" font-size="12.10" font-weight="normal" fill="#3a3a3a" text-anchor="middle" stroke="#3a3a3a" stroke-width="0.15" stroke-linejoin="round" transform="translate(532.5 0) scale(0.86 1) translate(-532.5 0)">Press Releases</text>
<text x="532.5" y="583.0" font-family="Liberation Sans" font-size="12.10" font-weight="normal" fill="#3a3a3a" text-anchor="middle" stroke="#3a3a3a" stroke-width="0.15" stroke-linejoin="round" transform="translate(532.5 0) scale(0.86 1) translate(-532.5 0)">Products</text>
<text x="532.5" y="596.1" font-family="Liberation Sans" font-size="12.10" font-weight="normal" fill="#3a3a3a" text-anchor="middle" stroke="#3a3a3a" stroke-width="0.15" stroke-linejoin="round" transform="translate(532.5 0) scale(0.86 1) translate(-532.5 0)">White Papers</text>
<text x="532.5" y="609.2" font-family="Liberation Sans" font-size="12.10" font-weight="normal" fill="#3a3a3a" text-anchor="middle" stroke="#3a3a3a" stroke-width="0.15" stroke-linejoin="round" transform="translate(532.5 0) scale(0.86 1) translate(-532.5 0)">Services</text>
<text x="532.5" y="622.2" font-family="Liberation Sans" font-size="12.10" font-weight="normal" fill="#3a3a3a" text-anchor="middle" stroke="#3a3a3a" stroke-width="0.15" stroke-linejoin="round" transform="translate(532.5 0) scale(0.86 1) translate(-532.5 0)">Podcasts</text>
<text x="532.5" y="635.3" font-family="Liberation Sans" font-size="12.10" font-weight="normal" fill="#3a3a3a" text-anchor="middle" stroke="#3a3a3a" stroke-width="0.15" stroke-linejoin="round" transform="translate(532.5 0) scale(0.86 1) translate(-532.5 0)">Images</text>
<text x="532.5" y="648.4" font-family="Liberation Sans" font-size="12.10" font-weight="normal" fill="#3a3a3a" text-anchor="middle" stroke="#3a3a3a" stroke-width="0.15" stroke-linejoin="round" transform="translate(532.5 0) scale(0.86 1) translate(-532.5 0)">Free Tools</text>
<text x="532.5" y="661.5" font-family="Liberation Sans" font-size="12.10" font-weight="normal" fill="#3a3a3a" text-anchor="middle" stroke="#3a3a3a" stroke-width="0.15" stroke-linejoin="round" transform="translate(532.5 0) scale(0.86 1) translate(-532.5 0)">Videos</text>
<text x="614.7" y="543.7" font-family="Liberation Sans" font-size="12.10" font-weight="normal" fill="#3a3a3a" text-anchor="middle" stroke="#3a3a3a" stroke-width="0.15" stroke-linejoin="round" transform="translate(614.7 0) scale(0.86 1) translate(-614.7 0)">Demos</text>
<text x="614.7" y="556.8" font-family="Liberation Sans" font-size="12.10" font-weight="normal" fill="#3a3a3a" text-anchor="middle" stroke="#3a3a3a" stroke-width="0.15" stroke-linejoin="round" transform="translate(614.7 0) scale(0.86 1) translate(-614.7 0)">Guides</text>
<text x="614.7" y="569.9" font-family="Liberation Sans" font-size="12.10" font-weight="normal" fill="#3a3a3a" text-anchor="middle" stroke="#3a3a3a" stroke-width="0.15" stroke-linejoin="round" transform="translate(614.7 0) scale(0.86 1) translate(-614.7 0)">Webinars</text>
<text x="614.7" y="583.0" font-family="Liberation Sans" font-size="12.10" font-weight="normal" fill="#3a3a3a" text-anchor="middle" stroke="#3a3a3a" stroke-width="0.15" stroke-linejoin="round" transform="translate(614.7 0) scale(0.86 1) translate(-614.7 0)">Infographics</text>
<text x="614.7" y="596.1" font-family="Liberation Sans" font-size="12.10" font-weight="normal" fill="#3a3a3a" text-anchor="middle" stroke="#3a3a3a" stroke-width="0.15" stroke-linejoin="round" transform="translate(614.7 0) scale(0.86 1) translate(-614.7 0)">Case Studies</text>
<text x="614.7" y="609.2" font-family="Liberation Sans" font-size="12.10" font-weight="normal" fill="#3a3a3a" text-anchor="middle" stroke="#3a3a3a" stroke-width="0.15" stroke-linejoin="round" transform="translate(614.7 0) scale(0.86 1) translate(-614.7 0)">Contests</text>
<text x="614.7" y="622.2" font-family="Liberation Sans" font-size="12.10" font-weight="normal" fill="#3a3a3a" text-anchor="middle" stroke="#3a3a3a" stroke-width="0.15" stroke-linejoin="round" transform="translate(614.7 0) scale(0.86 1) translate(-614.7 0)">Research Reports</text>
<text x="614.7" y="635.3" font-family="Liberation Sans" font-size="12.10" font-weight="normal" fill="#3a3a3a" text-anchor="middle" stroke="#3a3a3a" stroke-width="0.15" stroke-linejoin="round" transform="translate(614.7 0) scale(0.86 1) translate(-614.7 0)">Presentations</text>
<text x="614.7" y="648.4" font-family="Liberation Sans" font-size="12.10" font-weight="normal" fill="#3a3a3a" text-anchor="middle" stroke="#3a3a3a" stroke-width="0.15" stroke-linejoin="round" transform="translate(614.7 0) scale(0.86 1) translate(-614.7 0)">Articles</text>
<text x="614.7" y="661.5" font-family="Liberation Sans" font-size="12.10" font-weight="normal" fill="#3a3a3a" text-anchor="middle" stroke="#3a3a3a" stroke-width="0.15" stroke-linejoin="round" transform="translate(614.7 0) scale(0.86 1) translate(-614.7 0)">Blog Posts</text>
<path d="M575.5,682.5 L575.5,689.5" fill="none" stroke="#6d6e70" stroke-width="1.2" />
<path d="M523.5,696.5 L523.5,689.5 L625.5,689.5 L625.5,696.5" fill="none" stroke="#6d6e70" stroke-width="1.2" />
<polygon points="523.5,706.8 517.8,695.8 529.2,695.8" fill="#58595b"/>
<polygon points="625.5,706.8 619.8,695.8 631.2,695.8" fill="#58595b"/>
<path d="M523.5,787.5 L523.5,796.5 L625.5,796.5 L625.5,787.5" fill="none" stroke="#6d6e70" stroke-width="1.2" />
<path d="M576.5,796.5 L576.5,802.5" fill="none" stroke="#6d6e70" stroke-width="1.2" />
<polygon points="576.5,812.6 570.8,801.6 582.2,801.6" fill="#58595b"/>
<path d="M619.5,856.5 L755.5,856.5" fill="none" stroke="#6d6e70" stroke-width="1.2" />
<polygon points="765.4,856.5 753.4,850.5 753.4,862.5" fill="#58595b"/>
<path d="M859.5,856.5 L869.5,856.5" fill="none" stroke="#6d6e70" stroke-width="1.2" />
<polygon points="880.0,856.5 868.5,850.5 868.5,862.5" fill="#58595b"/>
<path d="M928.5,818.5 L928.5,657.5" fill="none" stroke="#6d6e70" stroke-width="1.2" />
<polygon points="928.5,646.5 922.5,658.0 934.5,658.0" fill="#58595b"/>
<path d="M928.5,565.5 L928.5,503.5 L876.5,503.5" fill="none" stroke="#6d6e70" stroke-width="1.2" />
<polygon points="864.0,503.5 876.0,497.5 876.0,509.5" fill="#58595b"/>
<path d="M772.5,503.5 L708.5,503.5" fill="none" stroke="#6d6e70" stroke-width="1.2" />
<polygon points="696.0,503.5 708.5,497.2 708.5,509.8" fill="#58595b"/>
<polygon points="765.6,603.5 753.6,597.5 753.6,609.5" fill="#58595b"/>
<path d="M857.5,603.5 L868.5,603.5" fill="none" stroke="#6d6e70" stroke-width="1.2" />
<polygon points="879.0,603.5 867.5,597.5 867.5,609.5" fill="#58595b"/>
<path d="M816.5,892.5 L816.5,908.5" fill="none" stroke="#6d6e70" stroke-width="1.2" />
<polygon points="816.5,921.7 810.5,907.7 822.5,907.7" fill="#58595b"/>
<path d="M772.5,967.5 L764.5,967.5" fill="none" stroke="#6d6e70" stroke-width="1.2" />
<polygon points="752.0,967.5 764.3,961.5 764.3,973.5" fill="#58595b"/>
<path d="M576.5,893.5 L576.5,903.5" fill="none" stroke="#6d6e70" stroke-width="1.2" />
<path d="M451.5,911.5 L451.5,903.5 L703.5,903.5 L703.5,911.5" fill="none" stroke="#6d6e70" stroke-width="1.2" />
<path d="M576.5,903.5 L576.5,911.5" fill="none" stroke="#6d6e70" stroke-width="1.2" />
<polygon points="451.5,922.5 445.5,911.0 457.5,911.0" fill="#58595b"/>
<polygon points="576.5,922.5 570.5,911.0 582.5,911.0" fill="#58595b"/>
<polygon points="703.5,922.0 697.5,910.5 709.5,910.5" fill="#58595b"/>
<path d="M493.5,967.5 L515.5,967.5" fill="none" stroke="#6d6e70" stroke-width="1.2" />
<polygon points="526.4,967.5 514.9,961.5 514.9,973.5" fill="#58595b"/>
<polygon points="624.7,967.5 635.7,961.5 635.7,973.5" fill="#58595b"/>
<polygon points="655.0,967.5 644.0,961.5 644.0,973.5" fill="#58595b"/>
<path d="M635.5,967.5 L645.5,967.5" fill="none" stroke="#6d6e70" stroke-width="1.6" />
<path d="M451.5,1004.5 L451.5,1012.5" fill="none" stroke="#6d6e70" stroke-width="1.2" />
<polygon points="451.5,1024.0 445.5,1012.4 457.5,1012.4" fill="#58595b"/>
<polygon points="858.66,502.80 837.23,539.92 794.37,539.92 772.94,502.80 794.37,465.68 837.23,465.68" fill="#fff" stroke="#7d7e80" stroke-width="1.1" stroke-linejoin="miter" />
<text x="815.8" y="501.0" font-family="Liberation Sans" font-size="12.21" font-weight="bold" fill="#555" text-anchor="middle" textLength="63.0" lengthAdjust="spacingAndGlyphs" stroke="#555" stroke-width="0.35" stroke-linejoin="round" >CONVERSION</text>
<text x="815.8" y="513.0" font-family="Liberation Sans" font-size="12.21" font-weight="bold" fill="#555" text-anchor="middle" textLength="68.6" lengthAdjust="spacingAndGlyphs" stroke="#555" stroke-width="0.35" stroke-linejoin="round" >OPTIMIZATION</text>
<polygon points="858.16,603.00 836.73,640.12 793.87,640.12 772.44,603.00 793.87,565.88 836.73,565.88" fill="#fff" stroke="#7d7e80" stroke-width="1.1" stroke-linejoin="miter" />
<text x="815.3" y="607.2" font-family="Liberation Sans" font-size="12.21" font-weight="bold" fill="#555" text-anchor="middle" textLength="54.9" lengthAdjust="spacingAndGlyphs" stroke="#555" stroke-width="0.35" stroke-linejoin="round" >ANALYTICS</text>
<polygon points="971.26,603.00 949.83,640.12 906.97,640.12 885.54,603.00 906.97,565.88 949.83,565.88" fill="#fff" stroke="#7d7e80" stroke-width="1.1" stroke-linejoin="miter" />
<text x="928.4" y="607.2" font-family="Liberation Sans" font-size="12.21" font-weight="bold" fill="#555" text-anchor="middle" textLength="55.5" lengthAdjust="spacingAndGlyphs" stroke="#555" stroke-width="0.35" stroke-linejoin="round" >REPORTING</text>
<polygon points="566.46,750.00 545.03,787.12 502.17,787.12 480.74,750.00 502.17,712.88 545.03,712.88" fill="#fff" stroke="#7d7e80" stroke-width="1.1" stroke-linejoin="miter" />
<text x="523.6" y="746.9" font-family="Liberation Sans" font-size="12.21" font-weight="bold" fill="#555" text-anchor="middle" textLength="28.3" lengthAdjust="spacingAndGlyphs" stroke="#555" stroke-width="0.35" stroke-linejoin="round" >FORM</text>
<text x="523.6" y="758.9" font-family="Liberation Sans" font-size="12.21" font-weight="bold" fill="#555" text-anchor="middle" textLength="63.3" lengthAdjust="spacingAndGlyphs" stroke="#555" stroke-width="0.35" stroke-linejoin="round" >SUBMISSION</text>
<polygon points="668.46,750.00 647.03,787.12 604.17,787.12 582.74,750.00 604.17,712.88 647.03,712.88" fill="#fff" stroke="#7d7e80" stroke-width="1.1" stroke-linejoin="miter" />
<text x="625.6" y="746.9" font-family="Liberation Sans" font-size="12.21" font-weight="bold" fill="#555" text-anchor="middle" textLength="32.9" lengthAdjust="spacingAndGlyphs" stroke="#555" stroke-width="0.35" stroke-linejoin="round" >PHONE</text>
<text x="625.6" y="758.9" font-family="Liberation Sans" font-size="12.21" font-weight="bold" fill="#555" text-anchor="middle" textLength="23.7" lengthAdjust="spacingAndGlyphs" stroke="#555" stroke-width="0.35" stroke-linejoin="round" >CALL</text>
<polygon points="619.56,856.00 598.13,893.12 555.27,893.12 533.84,856.00 555.27,818.88 598.13,818.88" fill="#fff" stroke="#7d7e80" stroke-width="1.1" stroke-linejoin="miter" />
<text x="575.5" y="861.2" font-family="Liberation Sans" font-size="12.21" font-weight="bold" fill="#555" text-anchor="middle" textLength="40.9" lengthAdjust="spacingAndGlyphs" stroke="#555" stroke-width="0.35" stroke-linejoin="round" >INQUIRY</text>
<polygon points="858.86,855.60 837.43,892.72 794.57,892.72 773.14,855.60 794.57,818.48 837.43,818.48" fill="#fff" stroke="#7d7e80" stroke-width="1.1" stroke-linejoin="miter" />
<text x="817.2" y="852.8" font-family="Liberation Sans" font-size="12.21" font-weight="bold" fill="#555" text-anchor="middle" textLength="25.2" lengthAdjust="spacingAndGlyphs" stroke="#555" stroke-width="0.35" stroke-linejoin="round" >LEAD</text>
<text x="817.2" y="864.8" font-family="Liberation Sans" font-size="12.21" font-weight="bold" fill="#555" text-anchor="middle" textLength="58.1" lengthAdjust="spacingAndGlyphs" stroke="#555" stroke-width="0.35" stroke-linejoin="round" >VALIDATION</text>
<polygon points="971.56,855.60 950.13,892.72 907.27,892.72 885.84,855.60 907.27,818.48 950.13,818.48" fill="#fff" stroke="#7d7e80" stroke-width="1.1" stroke-linejoin="miter" />
<text x="928.7" y="852.8" font-family="Liberation Sans" font-size="12.21" font-weight="bold" fill="#555" text-anchor="middle" textLength="30.7" lengthAdjust="spacingAndGlyphs" stroke="#555" stroke-width="0.35" stroke-linejoin="round" >SALES</text>
<text x="928.7" y="864.8" font-family="Liberation Sans" font-size="12.21" font-weight="bold" fill="#555" text-anchor="middle" textLength="24.8" lengthAdjust="spacingAndGlyphs" stroke="#555" stroke-width="0.35" stroke-linejoin="round" >LEAD</text>
<polygon points="493.61,967.00 472.18,1004.12 429.32,1004.12 407.89,967.00 429.32,929.88 472.18,929.88" fill="#fff" stroke="#7d7e80" stroke-width="1.1" stroke-linejoin="miter" />
<text x="448.4" y="966.1" font-family="Liberation Sans" font-size="12.21" font-weight="bold" fill="#555" text-anchor="middle" textLength="30.6" lengthAdjust="spacingAndGlyphs" stroke="#555" stroke-width="0.35" stroke-linejoin="round" >SALES</text>
<text x="448.4" y="978.1" font-family="Liberation Sans" font-size="12.21" font-weight="bold" fill="#555" text-anchor="middle" textLength="27.4" lengthAdjust="spacingAndGlyphs" stroke="#555" stroke-width="0.35" stroke-linejoin="round" >TEAM</text>
<polygon points="619.61,967.30 598.18,1004.42 555.32,1004.42 533.89,967.30 555.32,930.18 598.18,930.18" fill="#fff" stroke="#7d7e80" stroke-width="1.1" stroke-linejoin="miter" />
<text x="576.8" y="971.5" font-family="Liberation Sans" font-size="12.21" font-weight="bold" fill="#555" text-anchor="middle" textLength="21.0" lengthAdjust="spacingAndGlyphs" stroke="#555" stroke-width="0.35" stroke-linejoin="round" >CRM</text>
<polygon points="745.56,967.60 724.13,1004.72 681.27,1004.72 659.84,967.60 681.27,930.48 724.13,930.48" fill="#fff" stroke="#7d7e80" stroke-width="1.1" stroke-linejoin="miter" />
<text x="703.6" y="965.8" font-family="Liberation Sans" font-size="12.21" font-weight="bold" fill="#555" text-anchor="middle" textLength="60.0" lengthAdjust="spacingAndGlyphs" stroke="#555" stroke-width="0.35" stroke-linejoin="round" >MARKETING</text>
<text x="703.6" y="977.8" font-family="Liberation Sans" font-size="12.21" font-weight="bold" fill="#555" text-anchor="middle" textLength="66.6" lengthAdjust="spacingAndGlyphs" stroke="#555" stroke-width="0.35" stroke-linejoin="round" >AUTOMATION</text>
<polygon points="858.86,967.60 837.43,1004.72 794.57,1004.72 773.14,967.60 794.57,930.48 837.43,930.48" fill="#fff" stroke="#7d7e80" stroke-width="1.1" stroke-linejoin="miter" />
<text x="816.0" y="966.8" font-family="Liberation Sans" font-size="12.21" font-weight="bold" fill="#555" text-anchor="middle" textLength="54.4" lengthAdjust="spacingAndGlyphs" stroke="#555" stroke-width="0.35" stroke-linejoin="round" >NOT SALES</text>
<text x="816.0" y="978.8" font-family="Liberation Sans" font-size="12.21" font-weight="bold" fill="#555" text-anchor="middle" textLength="24.8" lengthAdjust="spacingAndGlyphs" stroke="#555" stroke-width="0.35" stroke-linejoin="round" >LEAD</text>
<polygon points="493.11,1066.80 471.80,1103.70 429.20,1103.70 407.89,1066.80 429.20,1029.90 471.80,1029.90" fill="#fff" stroke="#d41f21" stroke-width="1.2" stroke-linejoin="miter" />
<polygon points="490.10,1066.80 470.30,1101.09 430.70,1101.09 410.90,1066.80 430.70,1032.51 470.30,1032.51" fill="#d41f21"/>
<text x="450.0" y="1050.6" font-family="Liberation Sans" font-size="11.77" font-weight="bold" fill="#fff" text-anchor="middle" textLength="22.5" lengthAdjust="spacingAndGlyphs" stroke="#fff" stroke-width="0.35" stroke-linejoin="round" >NEW</text>
<text x="450.2" y="1061.9" font-family="Liberation Sans" font-size="11.77" font-weight="bold" fill="#fff" text-anchor="middle" textLength="53.6" lengthAdjust="spacingAndGlyphs" stroke="#fff" stroke-width="0.35" stroke-linejoin="round" >CUSTOMER</text>
<path d="M434.7,1103.3 Q435.5,1093 446,1090.5 L450,1095 L454.5,1090.5 Q466,1093 467.6,1103.3 Z" fill="#fff"/>
<path d="M443.3,1079 Q443.3,1088.5 450,1088.5 Q456.7,1088.5 456.7,1079 L456.7,1076 Q456.7,1069.5 450,1069.5 Q443.3,1069.5 443.3,1076 Z" fill="none" stroke="#fff" stroke-width="1.4"/>
<path d="M443.3,1077 Q443,1069 450,1069 Q457.5,1069 457,1076 Q452,1076 449,1072.5 Q447,1076 443.3,1077 Z" fill="#fff"/>
<path d="M446.5,1088 L446.5,1091 M453.5,1088 L453.5,1091" stroke="#fff" stroke-width="1.2"/>
<path d="M445.5,1091.5 L450,1095.5 L454.5,1091.5" fill="none" stroke="#d41f21" stroke-width="0.9"/>
<rect x="113.6" y="711.9" width="192.5" height="229.4" fill="#fff" stroke="#8a8b8d" stroke-width="1"/>
<text x="126.6" y="740.3" font-family="Liberation Sans" font-size="13.90" font-weight="normal" fill="#4a4a4a" text-anchor="start" textLength="140.7" lengthAdjust="spacingAndGlyphs" >The Internet marketing lead</text>
<text x="126.6" y="763.1" font-family="Liberation Sans" font-size="13.90" font-weight="normal" fill="#4a4a4a" text-anchor="start" textLength="166.8" lengthAdjust="spacingAndGlyphs" >generation ecosystem illustrates</text>
<text x="126.6" y="785.9" font-family="Liberation Sans" font-size="13.90" font-weight="normal" fill="#4a4a4a" text-anchor="start" textLength="163.8" lengthAdjust="spacingAndGlyphs" >how all components fit together</text>
<text x="126.6" y="808.7" font-family="Liberation Sans" font-size="13.90" font-weight="normal" fill="#4a4a4a" text-anchor="start" textLength="152.4" lengthAdjust="spacingAndGlyphs" >to form cohesive campaigns.</text>
<text x="126.6" y="831.5" font-family="Liberation Sans" font-size="13.90" font-weight="normal" fill="#4a4a4a" text-anchor="start" textLength="164.6" lengthAdjust="spacingAndGlyphs" >It is intended to give marketing</text>
<text x="126.6" y="854.3" font-family="Liberation Sans" font-size="13.90" font-weight="normal" fill="#4a4a4a" text-anchor="start" textLength="155.4" lengthAdjust="spacingAndGlyphs" >leaders a blueprint for building</text>
<text x="126.6" y="877.1" font-family="Liberation Sans" font-size="13.90" font-weight="normal" fill="#4a4a4a" text-anchor="start" textLength="161.1" lengthAdjust="spacingAndGlyphs" >a complete Internet marketing</text>
<text x="126.6" y="899.9" font-family="Liberation Sans" font-size="13.90" font-weight="normal" fill="#4a4a4a" text-anchor="start" textLength="152.7" lengthAdjust="spacingAndGlyphs" >strategy that maximizes sales</text>
<text x="126.6" y="922.7" font-family="Liberation Sans" font-size="13.90" font-weight="normal" fill="#4a4a4a" text-anchor="start" textLength="82.5" lengthAdjust="spacingAndGlyphs" >lead generation.</text>
<text x="42.5" y="1136.2" font-family="Liberation Sans" font-size="6.40" font-weight="bold" fill="#333" text-anchor="start" textLength="147.2" lengthAdjust="spacingAndGlyphs" >© 2016 Straight North, LLC. All Rights Reserved. v1.0</text>
<defs><clipPath id="lc"><circle cx="820.2" cy="1096.2" r="17.6"/></clipPath></defs>
<circle cx="820.2" cy="1096.2" r="20.2" fill="#fff" stroke="#d4d4d6" stroke-width="1.2"/>
<g clip-path="url(#lc)"><rect x="800" y="1076" width="42" height="42" fill="#58585a"/>
<polygon points="820.2,1077.5 835.5,1118 805,1118" fill="#b0dc1e" stroke="#fff" stroke-width="1.3"/></g>
<text transform="translate(851.60 1101.60) scale(0.780 1)" x="0" y="0" font-family="Liberation Sans" font-size="15.84" font-weight="normal" fill="#58595b" textLength="95.51" lengthAdjust="spacing">STRAIGHT</text>
<text transform="translate(925.80 1101.60) scale(0.780 1)" x="0" y="0" font-family="Liberation Sans" font-size="15.84" font-weight="bold" fill="#a9d62b" textLength="66.92" lengthAdjust="spacing">NORTH</text>
<text transform="translate(851.60 1115.60) scale(0.860 1)" x="0" y="0" font-family="Liberation Sans" font-size="9.30" font-weight="normal" fill="#6a6a6c" textLength="119.19" lengthAdjust="spacing" font-style="italic">Make every click count.®</text>
<text x="852.0" y="1136.0" font-family="Liberation Sans" font-size="8.60" font-weight="bold" fill="#333" text-anchor="start" textLength="84.7" lengthAdjust="spacingAndGlyphs" >www.straightnorth.com</text></svg>
</body></html>
